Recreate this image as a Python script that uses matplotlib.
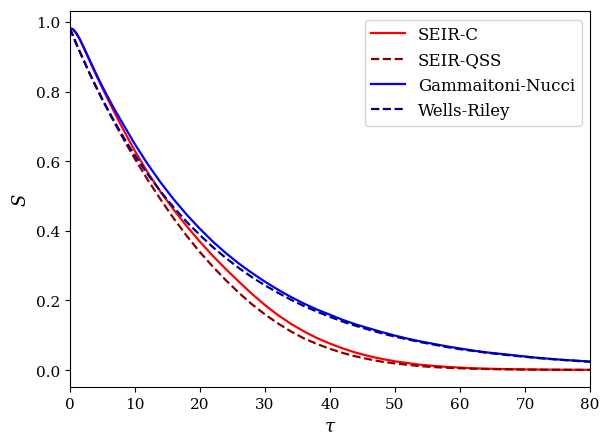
import matplotlib
matplotlib.use("Agg")
import matplotlib.pyplot as plt

plt.rcParams['font.family'] = ['DejaVu Serif']
plt.rcParams['mathtext.fontset'] = 'dejavuserif'

# time grids
t_a = [0, 0.5, 1, 1.5, 2, 3, 4, 5, 6, 7, 8, 9, 10, 12, 14, 16, 18, 20, 22, 24, 26, 28,
       30, 32, 34, 36, 38, 40, 42, 44, 46, 48, 50, 52, 54, 56, 58, 60, 62, 65, 70, 75, 80]
t_b = [0, 1, 2, 3, 4, 5, 6, 7, 8, 9, 10, 12, 14, 16, 18, 20, 22, 24, 26, 28,
       30, 32, 34, 36, 38, 40, 42, 44, 46, 48, 50, 52, 54, 56, 58, 60, 62, 65, 70, 75, 80]
t_c = [0, 0.5, 1, 1.5, 2, 3, 4, 5, 6, 7, 8, 10, 12, 14, 16, 18, 20, 22, 24, 26, 28,
       30, 32, 34, 36, 38, 40, 42, 44, 46, 48, 50, 52, 54, 56, 58, 60, 62, 64, 66, 68,
       70, 72, 74, 76, 78, 80]
t_d = [0, 1, 2, 3, 4, 5, 6, 7, 8, 9, 10, 12, 14, 16, 18, 20, 22, 24, 26, 28,
       30, 32, 34, 36, 38, 40, 42, 44, 46, 48, 50, 52, 54, 56, 58, 60, 62, 64, 66, 68,
       70, 72, 74, 76, 78, 80]

seir_c = [0.982, 0.979, 0.967, 0.951, 0.931, 0.890, 0.849, 0.810, 0.772, 0.735, 0.699,
          0.664, 0.630, 0.567, 0.511, 0.460, 0.413, 0.369, 0.328, 0.290, 0.254, 0.219,
          0.187, 0.158, 0.133, 0.111, 0.092, 0.076, 0.062, 0.050, 0.040, 0.032, 0.025,
          0.020, 0.015, 0.012, 0.009, 0.007, 0.005, 0.0035, 0.0018, 0.0010, 0.0006]
seir_qss = [0.982, 0.937, 0.895, 0.854, 0.815, 0.777, 0.741, 0.706, 0.672, 0.639, 0.607,
            0.546, 0.489, 0.435, 0.385, 0.339, 0.297, 0.258, 0.222, 0.189, 0.160, 0.134,
            0.111, 0.091, 0.075, 0.061, 0.049, 0.039, 0.031, 0.024, 0.019, 0.015, 0.011,
            0.0085, 0.0065, 0.005, 0.0038, 0.0025, 0.0012, 0.0006, 0.0003]
gamm_nucci = [0.982, 0.979, 0.968, 0.952, 0.933, 0.893, 0.853, 0.815, 0.779, 0.745, 0.713,
              0.649, 0.591, 0.538, 0.490, 0.446, 0.406, 0.369, 0.336, 0.306, 0.279, 0.254,
              0.231, 0.210, 0.191, 0.174, 0.159, 0.144, 0.131, 0.120, 0.109, 0.099, 0.090,
              0.082, 0.075, 0.068, 0.062, 0.056, 0.051, 0.047, 0.043, 0.039, 0.035, 0.032,
              0.029, 0.027, 0.024]
wells_riley = [0.982, 0.937, 0.895, 0.854, 0.815, 0.778, 0.743, 0.709, 0.677, 0.646, 0.617,
               0.562, 0.512, 0.467, 0.425, 0.388, 0.353, 0.322, 0.293, 0.267, 0.2435, 0.222,
               0.202, 0.184, 0.168, 0.153, 0.139, 0.127, 0.116, 0.1055, 0.096, 0.088, 0.080,
               0.073, 0.066, 0.060, 0.055, 0.050, 0.0457, 0.0416, 0.038, 0.0346, 0.0315,
               0.0287, 0.0261, 0.0238]

fig = plt.figure(figsize=(6.02, 4.35), dpi=100)
ax = fig.add_axes([0.116, 0.108, 0.864, 0.864])

ax.plot(t_a, seir_c, color='red', lw=1.6, label='SEIR-C')
ax.plot(t_b, seir_qss, color='darkred', lw=1.6, ls='--', label='SEIR-QSS')
ax.plot(t_c, gamm_nucci, color='blue', lw=1.6, label='Gammaitoni-Nucci')
ax.plot(t_d, wells_riley, color='navy', lw=1.6, ls='--', label='Wells-Riley')

ax.set_xlim(0, 80)
ax.set_xlabel(r'$\tau$', fontsize=13)
ax.set_ylabel(r'$S$', fontsize=13)
ax.tick_params(labelsize=11)
ax.legend(loc='upper right', fontsize=12)

fig.savefig('out.png', dpi=100)
